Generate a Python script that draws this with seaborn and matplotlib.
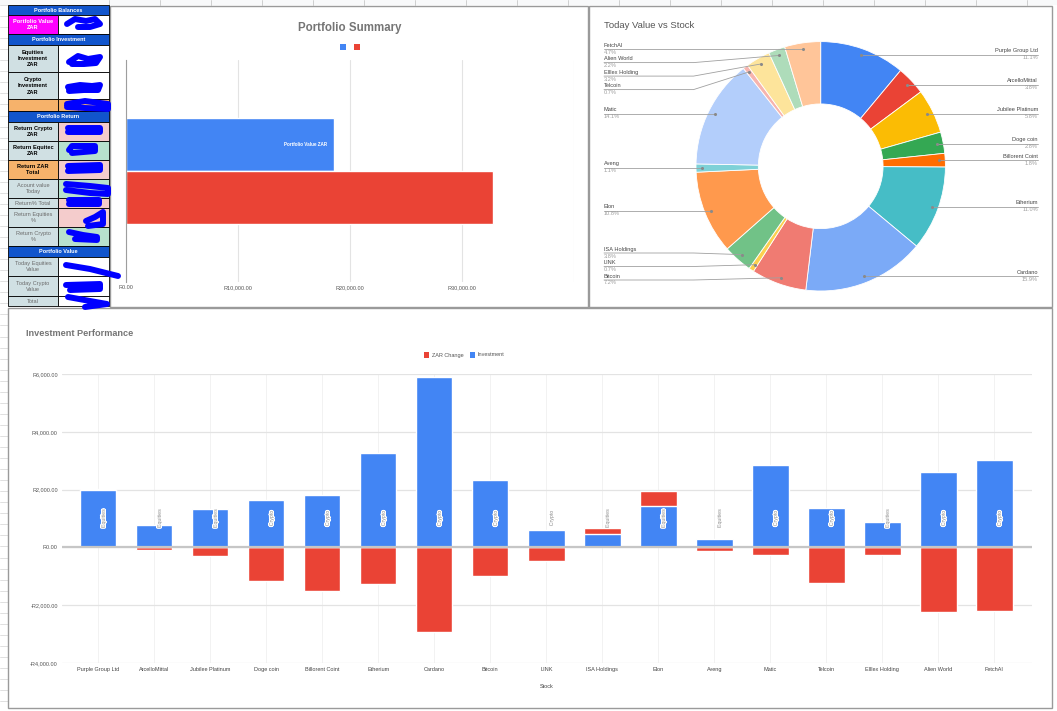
import numpy as np
import pandas as pd
import matplotlib
matplotlib.use("Agg")
import matplotlib.pyplot as plt
import seaborn as sns
from matplotlib.patches import Rectangle
import matplotlib.patheffects as pe

# ---------------- data ----------------
stocks = ["Purple Group Ltd", "ArcelloMittal", "Jubilee Platinum", "Doge coin", "Billorent Coint",
          "Etherium", "Cardano", "Bitcoin", "LINK", "ISA Holdings", "Elon", "Aveng", "Matic",
          "Telcoin", "Elllex Holding", "Alien World", "FetchAI"]
asset_type = ["Equities", "Equities", "Equities", "Crypto", "Crypto", "Crypto", "Crypto", "Crypto",
              "Crypto", "Equities", "Equities", "Equities", "Crypto", "Crypto", "Equities", "Crypto", "Crypto"]
investment = [2000, 785, 1340, 1626, 1800, 3277, 5907, 2320, 590, 463, 1420, 300, 2862, 1363, 879, 2620, 3035]
zar_change = [35, -90, -300, -1163, -1510, -1267, -2940, -1003, -460, 208, 532, -114, -264, -1232, -264, -2235, -2190]
today_value = [2030, 690, 1057, 506, 323, 2011, 2910, 1314, 121, 690, 1974, 195, 2580, 121, 580, 396, 855]

summary_series = ["Portfolio Value ZAR", "Total Investment ZAR"]
summary_values = [18570, 32740]
summary_ticks = [0, 10000, 20000, 30000]
perf_ticks = [-4000, -2000, 0, 2000, 4000, 6000]

table_labels = ["Portfolio Balances", "Portfolio Value\nZAR", "Portfolio Investment",
                "Equities\nInvestment\nZAR", "Crypto\nInvestment\nZAR", "", "Portfolio Return",
                "Return Crypto\nZAR", "Return Equitec\nZAR", "Return ZAR\nTotal", "Acount value\nToday",
                "Return% Total", "Return Equities\n%", "Return Crypto\n%", "Portfolio Value",
                "Today Equities\nValue", "Today Crypto\nValue", "Total"]

# ---------------- style / layout ----------------
BLUE, RED = "#4285f4", "#ea4335"
pie_colors = ["#4285f4", "#ea4335", "#fbbc04", "#34a853", "#ff6d01", "#46bdc6", "#7baaf7",
              "#f07b72", "#fcd04f", "#71c287", "#ff994d", "#7ed1d7", "#b3cefb", "#f7b4ae",
              "#fde49b", "#aedcba", "#ffc599"]
HDR, CYAN, ORANGE, PINK, GREEN, MAG = "#1155cc", "#d0e0e3", "#f6b26b", "#f4cccc", "#b7e1cd", "#ff00ff"
row_edges = [5, 15, 34, 45, 72, 99, 111, 122, 141, 160, 179, 198, 208, 227, 246, 257, 276, 296, 306]
row_style = ["h", "m", "h", "b", "b", "o", "h", "b", "b", "bo", "g", "g", "g", "g", "h", "g", "g", "g"]
col2_fill = [None, "white", None, "white", "white", ORANGE, None, PINK, GREEN, PINK, GREEN, PINK,
             PINK, GREEN, None, "white", "white", "white"]

W, H = 1057, 711
sns.set_style("white")
plt.rcParams["font.family"] = ["Liberation Sans", "DejaVu Sans"]

fig = plt.figure(figsize=(W / 100, H / 100), dpi=100)
fig.patch.set_facecolor("white")


def box(l, t, r, b):
    return [l / W, 1 - b / H, (r - l) / W, (b - t) / H]


def rand(v):
    return ("-" if v < 0 else "") + f"R{abs(v):,.2f}"


# background spreadsheet grid
bg = fig.add_axes([0, 0, 1, 1], zorder=0)
bg.set_xlim(0, W); bg.set_ylim(H, 0); bg.axis("off")
bg.add_patch(Rectangle((0, 0), W, 5, color="#f8f9fa", lw=0))
for y in np.arange(5, H, 11.05):
    bg.plot([0, 8], [y, y], color="#dadada", lw=0.6)
for x in np.arange(109, W, 51):
    bg.plot([x, x], [0, 5], color="#c8c8c8", lw=0.6)

# ---------------- Portfolio Summary ----------------
ax1 = fig.add_axes(box(126, 60, 574, 282), zorder=2)
df_sum = pd.DataFrame({"group": ["Portfolio"] * 2, "series": summary_series, "value": summary_values})
sns.barplot(data=df_sum, x="value", y="group", hue="series", palette=[BLUE, RED], orient="h",
            width=0.48, saturation=1, errorbar=None, legend=False, ax=ax1)
ax1.set_xlim(0, 40000)
ax1.set_ylim(0.5, -0.5)
ax1.set_xticks(summary_ticks + [40000])
ax1.set_xticklabels([rand(v) for v in summary_ticks] + [""])
ax1.tick_params(axis="x", length=0, labelsize=4, colors="#555555", pad=2.5)
ax1.set_yticks([])
ax1.set_xlabel(""); ax1.set_ylabel("")
ax1.grid(axis="x", color="#e3e3e3", lw=0.8)
ax1.set_axisbelow(True)
for s in ["top", "right", "bottom"]:
    ax1.spines[s].set_visible(False)
ax1.spines["left"].set_color("#9e9e9e")
ax1.spines["left"].set_linewidth(0.8)
ax1.patch.set_alpha(0)
p0 = ax1.patches[0]
ax1.text(p0.get_x() + p0.get_width() - 600, p0.get_y() + p0.get_height() / 2, summary_series[0],
         ha="right", va="center", fontsize=3.3, color="white", fontweight="bold")

# ---------------- Investment Performance ----------------
ax3 = fig.add_axes(box(62, 374, 1032, 663), zorder=2)
stacked_change = [i + c if c > 0 else c for i, c in zip(investment, zar_change)]
sns.barplot(x=stocks, y=stacked_change, color=RED, width=0.65, saturation=1, errorbar=None, ax=ax3)
sns.barplot(x=stocks, y=investment, color=BLUE, width=0.65, saturation=1, errorbar=None, ax=ax3)
ax3.set_xlim(-0.648, 16.673)
ax3.set_ylim(-4000, 6000)
ax3.set_yticks(perf_ticks)
ax3.set_yticklabels([rand(v) for v in perf_ticks])
ax3.tick_params(axis="both", length=0, labelsize=4, colors="#555555")
ax3.tick_params(axis="y", pad=3)
ax3.tick_params(axis="x", pad=3, colors="#444444")
ax3.grid(axis="y", color="#e3e3e3", lw=0.9)
ax3.grid(axis="x", color="#f0f0f0", lw=0.6)
ax3.set_axisbelow(True)
ax3.axhline(0, color="#c6c6c6", lw=1.6, zorder=3)
for s in ax3.spines.values():
    s.set_visible(False)
ax3.set_xlabel("Stock", fontsize=4, color="#444444", labelpad=5)
ax3.xaxis.set_label_coords(0.5, -0.072)
ax3.set_ylabel("")
ax3.patch.set_alpha(0)
for p, t in zip(ax3.containers[1], asset_type):
    ax3.text(p.get_x() + p.get_width() / 2 + 0.09, 1000, t, rotation=90, ha="center", va="center",
             fontsize=3.8, color="#8c8c8c", zorder=5,
             path_effects=[pe.withStroke(linewidth=1.6, foreground="white")])

# ---------------- Donut ----------------
axp = fig.add_axes(box(589, 6, 1052, 307), zorder=2)
cx, cy, R = 820.7, H - 166.3, 124.7
wedges, _ = axp.pie(today_value, colors=pie_colors, startangle=90, counterclock=False, radius=R,
                    center=(cx, cy), wedgeprops=dict(width=R * 0.5, edgecolor="white", linewidth=0.6))
axp.set_xlim(589, 1052); axp.set_ylim(H - 307, H - 6); axp.set_aspect("auto"); axp.axis("off")

# ---------------- overlay: table, titles, legends, labels ----------------
ov = fig.add_axes([0, 0, 1, 1], zorder=10)
ov.set_xlim(0, W); ov.set_ylim(H, 0); ov.axis("off"); ov.patch.set_alpha(0)

# panel borders
for (l, t, r, b) in [(110, 6, 588, 307), (589, 6, 1052, 307), (8, 308, 1052, 708)]:
    ov.add_patch(Rectangle((l, t), r - l, b - t, fill=False, ec="#9a9a9a", lw=1.0))

# table
x0, x1, x2 = 8, 58, 109
for i, (lab, st) in enumerate(zip(table_labels, row_style)):
    t, b = row_edges[i], row_edges[i + 1]
    if st == "h":
        ov.add_patch(Rectangle((x0, t), x2 - x0, b - t, fc=HDR, ec="black", lw=0.6))
        ov.text((x0 + x2) / 2, (t + b) / 2 + 0.3, lab, ha="center", va="center", fontsize=4,
                color="white", fontweight="bold")
        continue
    c1 = {"m": MAG, "b": CYAN, "bo": ORANGE, "o": ORANGE, "g": CYAN}[st]
    ov.add_patch(Rectangle((x0, t), x1 - x0, b - t, fc=c1, ec="black", lw=0.6))
    ov.add_patch(Rectangle((x1, t), x2 - x1, b - t, fc=col2_fill[i], ec="black", lw=0.6))
    if lab:
        color = {"m": "white", "b": "black", "bo": "black", "g": "#6b6b6b"}[st]
        weight = "normal" if st == "g" else "bold"
        ov.text((x0 + x1) / 2, (t + b) / 2 + 0.3, lab, ha="center", va="center", fontsize=4.1,
                color=color, fontweight=weight, linespacing=1.3)

# redaction scribbles
scribbles = [
    [(67, 24), (75, 19), (86, 21), (95, 19), (100, 24), (90, 27), (78, 27)],
    [(69, 62), (78, 56), (88, 59), (100, 57), (96, 63), (84, 64), (72, 64)],
    [(68, 87), (80, 85), (92, 86), (100, 85), (98, 90), (84, 90), (69, 91)],
    [(67, 104), (85, 101), (108, 104), (108, 109), (85, 108), (67, 107)],
    [(68, 128), (100, 128), (100, 132), (68, 132)],
    [(69, 150), (72, 146), (95, 146), (95, 151), (72, 153)],
    [(68, 166), (100, 165), (100, 170), (68, 171)],
    [(66, 184), (90, 186), (108, 188), (108, 194), (90, 193), (66, 190)],
    [(69, 200), (99, 200), (99, 204), (69, 204)],
    [(86, 221), (95, 217), (103, 212), (103, 224), (88, 226)],
    [(69, 232), (83, 235), (97, 237), (97, 240), (75, 239)],
    [(66, 265), (90, 269), (118, 276)],
    [(66, 285), (100, 284), (100, 289), (70, 290)],
    [(68, 297), (90, 301), (107, 304), (85, 307)],
]
for sc in scribbles:
    xs, ys = zip(*sc)
    ov.plot(xs, ys, color="#0000ff", lw=4.3, solid_capstyle="round", solid_joinstyle="round")

# titles
ov.text(350, 27.5, "Portfolio Summary", ha="center", va="center", fontsize=8.3, color="#757575",
        fontweight="bold")
ov.text(604, 26, "Today Value vs Stock", ha="left", va="center", fontsize=6.8, color="#555555")
ov.text(26, 334, "Investment Performance", ha="left", va="center", fontsize=6.6, color="#757575",
        fontweight="bold")

# summary legend (no text)
ov.add_patch(Rectangle((340, 44), 6, 6, fc=BLUE, lw=0))
ov.add_patch(Rectangle((354, 44), 6, 6, fc=RED, lw=0))

# performance legend
ov.add_patch(Rectangle((423.5, 352), 5, 5.5, fc=RED, lw=0))
ov.text(431.5, 355, "ZAR Change", ha="left", va="center", fontsize=4, color="#555555")
ov.add_patch(Rectangle((469.5, 352), 5, 5.5, fc=BLUE, lw=0))
ov.text(477.5, 355, "Investment", ha="left", va="center", fontsize=4, color="#555555")

# donut labels
total = sum(today_value)
info = []
for w, name, v in zip(wedges, stocks, today_value):
    mid = np.deg2rad((w.theta1 + w.theta2) / 2)
    dx = cx + 0.95 * R * np.cos(mid)
    dy = H - (cy + 0.95 * R * np.sin(mid))
    info.append(dict(name=name, pct=f"{v / total * 100:.1f}%", dx=dx, dy=dy,
                     side="R" if np.cos(mid) > 0 else "L", ly=dy))
gap, top_lim, bot_lim = 13.5, 48.7, 280.0
for side in ["L", "R"]:
    items = sorted([d for d in info if d["side"] == side], key=lambda d: d["dy"])
    prev = top_lim - gap
    for d in items:
        d["ly"] = max(d["ly"], prev + gap)
        prev = d["ly"]
    nxt = bot_lim + gap
    for d in reversed(items):
        d["ly"] = min(d["ly"], nxt - gap)
        nxt = d["ly"]
kinkL, kinkR = cx - 1.02 * R, cx + 1.02 * R
for d in info:
    if d["side"] == "L":
        xs = [604, kinkL, d["dx"]]
        tx, ha = 604, "left"
    else:
        xs = [1038, kinkR, d["dx"]]
        tx, ha = 1038, "right"
    ov.plot(xs, [d["ly"], d["ly"], d["dy"]], color="#a0a0a0", lw=0.6)
    ov.plot([d["dx"]], [d["dy"]], "o", ms=1.2, color="#8a8a8a")
    ov.text(tx, d["ly"] - 4.0, d["name"], ha=ha, va="center", fontsize=4.1, color="#444444")
    ov.text(tx, d["ly"] + 3.0, d["pct"], ha=ha, va="center", fontsize=4.1, color="#9e9e9e")

fig.savefig("out.png", dpi=100)
